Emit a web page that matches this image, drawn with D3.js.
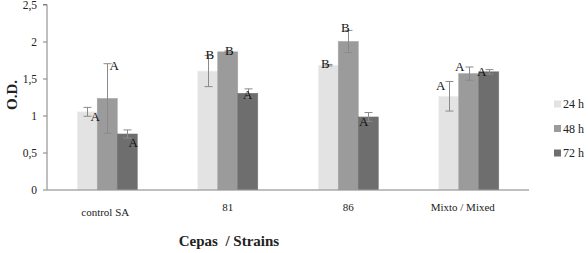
<!DOCTYPE html>
<html>
<head>
<meta charset="utf-8">
<script src="https://cdn.jsdelivr.net/npm/d3@7"></script>
<style>
  body { margin: 0; background: #fff; }
  text { font-family: 'Liberation Serif', 'Times New Roman', 'DejaVu Serif', serif; }
</style>
</head>
<body>
<svg id="chart" width="588" height="253"></svg>
<script>
// ---- data ----
const categories = ["control SA", "81", "86", "Mixto / Mixed"];
const seriesNames = ["24 h", "48 h", "72 h"];
const values24 = [1.05, 1.60, 1.68, 1.26];
const values48 = [1.23, 1.86, 2.00, 1.565];
const values72 = [0.75, 1.30, 0.98, 1.59];
const err24 = [0.06, 0.21, 0.01, 0.20];
const err48 = [0.47, 0.01, 0.15, 0.09];
const err72 = [0.055, 0.06, 0.06, 0.03];
const letters24 = ["A", "B", "B", "A"];
const letters48 = ["A", "B", "B", "A"];
const letters72 = ["A", "A", "A", "A"];
// label anchor heights (data units) as placed in the original
const letterY24 = [0.99, 1.82, 1.705, 1.41];
const letterY48 = [1.68, 1.885, 2.19, 1.66];
const letterY72 = [0.63, 1.28, 0.92, 1.59];
const yTicks = [0, 0.5, 1, 1.5, 2, 2.5];

// ---- layout ----
const FONT = "'Liberation Serif', 'Times New Roman', 'DejaVu Serif', serif";
const colors = ["#e3e3e3", "#9b9b9b", "#6e6e6e"];
const letterDx = [[8, 2, -3, -8], [7, 1.5, -3, -9], [6, 0, -4.5, -7]];
const margin = { left: 47, right: 59, top: 4.5, bottom: 63.5 };
const W = 588, H = 253;
const svg = d3.select("#chart");

const x = d3.scaleBand().domain(categories).range([margin.left, W - margin.right]).paddingInner(0).paddingOuter(0);
const groupW = 60;
const xs = d3.scaleBand().domain(seriesNames).range([0, groupW]).padding(0);
const y = d3.scaleLinear().domain([0, 2.5]).range([H - margin.bottom, margin.top]);

const allVals = [values24, values48, values72];
const allErr = [err24, err48, err72];
const allLet = [letters24, letters48, letters72];
const allLetY = [letterY24, letterY48, letterY72];

const data = [];
seriesNames.forEach((s, si) => {
  categories.forEach((c, ci) => {
    data.push({ s, si, c, ci, v: allVals[si][ci], e: allErr[si][ci], l: allLet[si][ci], ly: allLetY[si][ci] });
  });
});
const bx = d => x(d.c) + (x.bandwidth() - groupW) / 2 + xs(d.s);

// bars
svg.append("g").selectAll("rect").data(data).join("rect")
  .attr("x", d => bx(d))
  .attr("y", d => y(d.v))
  .attr("width", xs.bandwidth())
  .attr("height", d => y(0) - y(d.v))
  .attr("fill", d => colors[d.si])
  .attr("stroke", d => d3.color(colors[d.si]).brighter(0.15))
  .attr("stroke-width", 0.6);

// error bars
const eg = svg.append("g").attr("stroke", "#8a8a8a").attr("stroke-width", 1).attr("fill", "none");
data.forEach(d => {
  const cx = Math.round(bx(d) + xs.bandwidth() / 2) + 0.5;
  const t = y(d.v + d.e), b = y(d.v - d.e);
  eg.append("line").attr("x1", cx).attr("x2", cx).attr("y1", t).attr("y2", b);
  eg.append("line").attr("x1", cx - 4).attr("x2", cx + 4).attr("y1", t).attr("y2", t);
  eg.append("line").attr("x1", cx - 4).attr("x2", cx + 4).attr("y1", b).attr("y2", b);
});

// letters
svg.append("g").selectAll("text").data(data).join("text")
  .attr("x", d => bx(d) + xs.bandwidth() / 2 + letterDx[d.si][d.ci])
  .attr("y", d => y(d.ly))
  .attr("dy", "0.35em")
  .attr("text-anchor", "middle")
  .attr("font-family", FONT)
  .attr("font-size", 13)
  .attr("fill", "#111")
  .text(d => d.l);

// y axis
const yAxis = d3.axisLeft(y).tickValues(yTicks).tickSize(4).tickPadding(6)
  .tickFormat(d => String(d).replace(".", ","));
const ya = svg.append("g").attr("transform", `translate(${margin.left},0)`).call(yAxis)
  .attr("font-family", FONT);
ya.select(".domain").attr("stroke", "#808080").attr("d", `M-4,${y(2.5)}H0V${y(0)}`);
ya.selectAll(".tick line").attr("stroke", "#808080");
ya.selectAll(".tick text").attr("font-size", 11.5).attr("fill", "#222");

// x axis line
svg.append("line").attr("x1", margin.left).attr("x2", W - margin.right)
  .attr("y1", y(0) + 0.5).attr("y2", y(0) + 0.5).attr("stroke", "#808080").attr("stroke-width", 1);

// category labels (first one staggered lower)
svg.append("g").selectAll("text").data(categories).join("text")
  .attr("x", (c, i) => x(c) + x.bandwidth() / 2 + (i === 3 ? -6 : (i === 0 ? -2 : 0)))
  .attr("y", (c, i) => i === 0 ? 212 : 207)
  .attr("dy", "0.35em")
  .attr("text-anchor", "middle")
  .attr("font-family", FONT)
  .attr("font-size", 11)
  .attr("fill", "#222")
  .text(c => c);

// axis titles
svg.append("text").attr("x", 229).attr("y", 241).attr("dy", "0.35em")
  .attr("text-anchor", "middle").attr("font-weight", "bold").attr("font-size", 15)
  .attr("font-family", FONT)
  .attr("fill", "#222").style("white-space", "pre")
  .text("Cepas  / Strains");
svg.append("text").attr("transform", "translate(12,95) rotate(-90)").attr("dy", "0.35em")
  .attr("text-anchor", "middle").attr("font-weight", "bold").attr("font-size", 15)
  .attr("font-family", FONT)
  .attr("fill", "#222").text("O.D.");

// legend
const lg = svg.append("g").selectAll("g").data(seriesNames).join("g")
  .attr("transform", (s, i) => `translate(554,${104 + i * 24.5})`);
lg.append("rect").attr("x", 0).attr("y", -3.5).attr("width", 7).attr("height", 7)
  .attr("fill", (s, i) => colors[i]);
lg.append("text").attr("x", 9).attr("y", 0).attr("dy", "0.35em")
  .attr("font-family", FONT)
  .attr("font-size", 12).attr("fill", "#222").text(s => s);
</script>
</body>
</html>
